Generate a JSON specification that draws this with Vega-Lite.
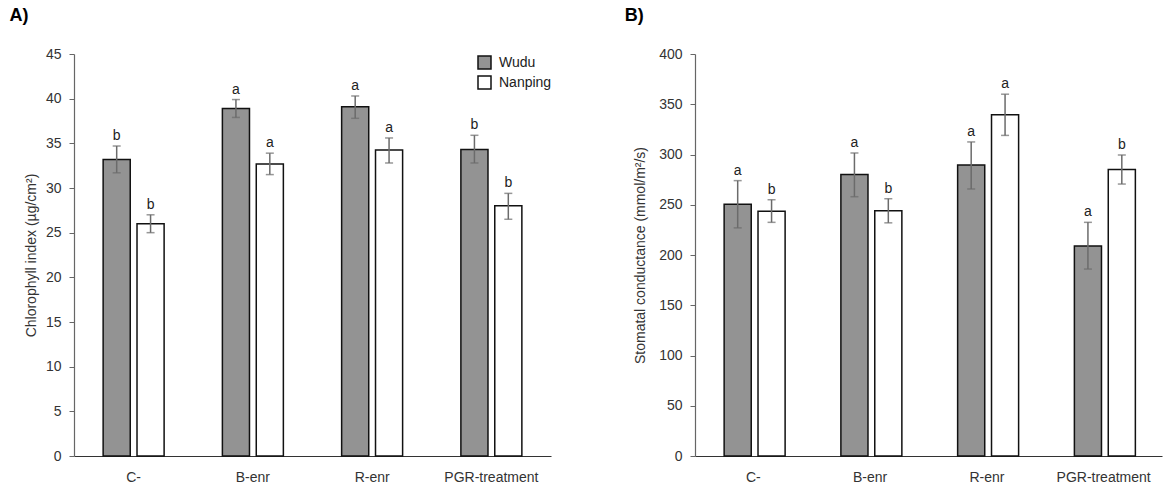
{
  "$schema": "https://vega.github.io/schema/vega-lite/v6.json",
  "background": "white",
  "padding": {"left": 9, "top": 7, "right": 5, "bottom": 5},
  "config": {
    "font": "Liberation Sans",
    "view": {"stroke": null},
    "axis": {"grid": false, "labelFontSize": 14, "labelColor": "#333", "titleFontSize": 14, "titleFontWeight": "normal", "titleColor": "#333", "domainColor": "#666", "tickColor": "#666", "domainWidth": 1.2},
    "axisY": {"tickSize": 5, "labelPadding": 8, "titlePadding": 7},
    "axisX": {"ticks": false, "labelPadding": 14, "labelAngle": 0, "domainColor": "#333"},
    "title": {"fontSize": 18, "fontWeight": "bold", "anchor": "start", "color": "#000"}
  },
  "resolve": {"scale": {"color": "independent"}, "legend": {"color": "independent"}},
  "spacing": 72,
  "hconcat": [
    {
      "width": 477,
      "height": 402,
      "title": {"text": "A)", "frame": "bounds", "dx": -15, "offset": 22},
      "data": {"values": [
        {"treatment": "C-", "site": "Wudu", "mean": 33.2, "lo": 31.7, "hi": 34.7, "letter": "b"},
        {"treatment": "C-", "site": "Nanping", "mean": 26.0, "lo": 25.0, "hi": 27.0, "letter": "b"},
        {"treatment": "B-enr", "site": "Wudu", "mean": 38.9, "lo": 37.9, "hi": 39.9, "letter": "a"},
        {"treatment": "B-enr", "site": "Nanping", "mean": 32.7, "lo": 31.5, "hi": 33.9, "letter": "a"},
        {"treatment": "R-enr", "site": "Wudu", "mean": 39.1, "lo": 37.8, "hi": 40.3, "letter": "a"},
        {"treatment": "R-enr", "site": "Nanping", "mean": 34.25, "lo": 32.8, "hi": 35.6, "letter": "a"},
        {"treatment": "PGR-treatment", "site": "Wudu", "mean": 34.3, "lo": 32.8, "hi": 35.9, "letter": "b"},
        {"treatment": "PGR-treatment", "site": "Nanping", "mean": 28.0, "lo": 26.5, "hi": 29.4, "letter": "b"}
      ]},
      "encoding": {
        "x": {"field": "treatment", "type": "nominal", "sort": ["C-", "B-enr", "R-enr", "PGR-treatment"], "scale": {"paddingInner": 0, "paddingOuter": 0}, "axis": {"title": null}},
        "xOffset": {"field": "site", "type": "nominal", "sort": ["Wudu", "Nanping"], "scale": {"paddingInner": 0.2, "paddingOuter": 0.86}}
      },
      "layer": [
        {
          "mark": {"type": "bar", "stroke": "#111", "strokeWidth": 1.5},
          "encoding": {
            "y": {"field": "mean", "type": "quantitative", "title": "Chlorophyll index (µg/cm²)", "scale": {"domain": [0, 45], "nice": false}, "axis": {"values": [0, 5, 10, 15, 20, 25, 30, 35, 40, 45]}},
            "color": {"field": "site", "type": "nominal", "scale": {"domain": ["Wudu", "Nanping"], "range": ["#939393", "#ffffff"]},
              "legend": {"orient": "none", "legendX": 403, "legendY": 1, "title": null, "symbolType": "square", "symbolSize": 169, "symbolStrokeColor": "#111", "symbolStrokeWidth": 1.5, "labelFontSize": 14, "labelColor": "#222", "labelOffset": 7, "rowPadding": 1, "padding": 0}}
          }
        },
        {
          "mark": {"type": "rule", "color": "#6b6b6b", "strokeWidth": 1.5},
          "encoding": {"y": {"field": "lo", "type": "quantitative", "title": "Chlorophyll index (µg/cm²)"}, "y2": {"field": "hi"}}
        },
        {
          "mark": {"type": "tick", "color": "#6b6b6b", "thickness": 1.5, "size": 8},
          "encoding": {"y": {"field": "lo", "type": "quantitative", "title": "Chlorophyll index (µg/cm²)"}}
        },
        {
          "mark": {"type": "tick", "color": "#6b6b6b", "thickness": 1.5, "size": 8},
          "encoding": {"y": {"field": "hi", "type": "quantitative", "title": "Chlorophyll index (µg/cm²)"}}
        },
        {
          "mark": {"type": "text", "baseline": "bottom", "dy": -3, "fontSize": 14, "color": "#222"},
          "encoding": {"y": {"field": "hi", "type": "quantitative", "title": "Chlorophyll index (µg/cm²)"}, "text": {"field": "letter"}}
        }
      ]
    },
    {
      "width": 467,
      "height": 402,
      "title": {"text": "B)", "frame": "bounds", "dx": -9, "offset": 22},
      "data": {"values": [
        {"treatment": "C-", "site": "Wudu", "mean": 250.5, "lo": 227, "hi": 274, "letter": "a"},
        {"treatment": "C-", "site": "Nanping", "mean": 243.5, "lo": 232.5, "hi": 255, "letter": "b"},
        {"treatment": "B-enr", "site": "Wudu", "mean": 280, "lo": 258, "hi": 301.5, "letter": "a"},
        {"treatment": "B-enr", "site": "Nanping", "mean": 244, "lo": 232, "hi": 256, "letter": "b"},
        {"treatment": "R-enr", "site": "Wudu", "mean": 289.5, "lo": 265.7, "hi": 312.5, "letter": "a"},
        {"treatment": "R-enr", "site": "Nanping", "mean": 339.6, "lo": 319, "hi": 360, "letter": "a"},
        {"treatment": "PGR-treatment", "site": "Wudu", "mean": 209, "lo": 186, "hi": 232.5, "letter": "a"},
        {"treatment": "PGR-treatment", "site": "Nanping", "mean": 285, "lo": 270.6, "hi": 299.5, "letter": "b"}
      ]},
      "encoding": {
        "x": {"field": "treatment", "type": "nominal", "sort": ["C-", "B-enr", "R-enr", "PGR-treatment"], "scale": {"paddingInner": 0, "paddingOuter": 0}, "axis": {"title": null}},
        "xOffset": {"field": "site", "type": "nominal", "sort": ["Wudu", "Nanping"], "scale": {"paddingInner": 0.2, "paddingOuter": 0.86}}
      },
      "layer": [
        {
          "mark": {"type": "bar", "stroke": "#111", "strokeWidth": 1.5},
          "encoding": {
            "y": {"field": "mean", "type": "quantitative", "title": "Stomatal conductance (mmol/m²/s)", "scale": {"domain": [0, 400], "nice": false}, "axis": {"values": [0, 50, 100, 150, 200, 250, 300, 350, 400], "titlePadding": 11}},
            "color": {"field": "site", "type": "nominal", "scale": {"domain": ["Wudu", "Nanping"], "range": ["#939393", "#ffffff"]}, "legend": null}
          }
        },
        {
          "mark": {"type": "rule", "color": "#6b6b6b", "strokeWidth": 1.5},
          "encoding": {"y": {"field": "lo", "type": "quantitative", "title": "Stomatal conductance (mmol/m²/s)"}, "y2": {"field": "hi"}}
        },
        {
          "mark": {"type": "tick", "color": "#6b6b6b", "thickness": 1.5, "size": 8},
          "encoding": {"y": {"field": "lo", "type": "quantitative", "title": "Stomatal conductance (mmol/m²/s)"}}
        },
        {
          "mark": {"type": "tick", "color": "#6b6b6b", "thickness": 1.5, "size": 8},
          "encoding": {"y": {"field": "hi", "type": "quantitative", "title": "Stomatal conductance (mmol/m²/s)"}}
        },
        {
          "mark": {"type": "text", "baseline": "bottom", "dy": -3, "fontSize": 14, "color": "#222"},
          "encoding": {"y": {"field": "hi", "type": "quantitative", "title": "Stomatal conductance (mmol/m²/s)"}, "text": {"field": "letter"}}
        }
      ]
    }
  ]
}
